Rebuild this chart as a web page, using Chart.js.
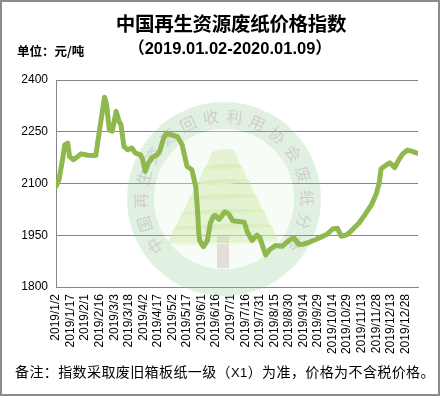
<!DOCTYPE html>
<html>
<head>
<meta charset="utf-8">
<script src="https://cdn.jsdelivr.net/npm/chart.js@4"></script>
<style>
  html, body { margin: 0; padding: 0; background: #fff; }
  #wrap { position: relative; width: 444px; height: 397px; overflow: hidden; background: #fff; }
  #frame { position: absolute; left: 0; top: 0; width: 440px; height: 396px; box-sizing: border-box; border: 2px solid #8c8c8c; }
  canvas { position: absolute; left: 0; top: 0; }
  .t { position: absolute; white-space: nowrap; color: #000; }
  #title { left: 0; width: 462px; text-align: center; top: 8px; font: bold 19.5px "Noto Sans CJK SC", sans-serif; letter-spacing: -0.3px; }
  #sub { left: 0; width: 460px; text-align: center; top: 35px; font: bold 16.5px "Liberation Sans", "Noto Sans CJK SC", sans-serif; }
  #unit { left: 17px; top: 41px; font: bold 12.5px "Noto Sans CJK SC", sans-serif; }
  #note { left: 15px; top: 361px; font: 14px "Noto Sans CJK SC", sans-serif; letter-spacing: 0.4px; }
</style>
</head>
<body>
<div id="wrap">
  <canvas id="c" width="444" height="397"></canvas>
  <div id="frame"></div>
  <div class="t" id="title">中国再生资源废纸价格指数</div>
  <div class="t" id="sub">（2019.01.02-2020.01.09）</div>
  <div class="t" id="unit">单位：元/吨</div>
  <div class="t" id="note">备注：指数采取废旧箱板纸一级（<span style="font-family:'Liberation Sans';font-size:13px">X1</span>）为准，价格为不含税价格。</div>
</div>
<script>
// ---- data ----
const dates = [
  "2019/1/2","2019/1/5","2019/1/9","2019/1/11","2019/1/14","2019/1/16","2019/1/20","2019/1/28",
  "2019/2/4","2019/2/12","2019/2/16","2019/2/21","2019/2/23","2019/2/26","2019/3/1","2019/3/5",
  "2019/3/8","2019/3/10","2019/3/13","2019/3/17","2019/3/21","2019/3/25","2019/3/30","2019/4/1",
  "2019/4/4","2019/4/7","2019/4/11","2019/4/16","2019/4/19","2019/4/23","2019/4/26","2019/5/1",
  "2019/5/7","2019/5/12","2019/5/17","2019/5/22","2019/5/26","2019/5/28","2019/5/29","2019/5/30",
  "2019/6/2","2019/6/3","2019/6/7","2019/6/10","2019/6/13","2019/6/15","2019/6/19","2019/6/25",
  "2019/6/29","2019/7/3","2019/7/15","2019/7/18","2019/7/23","2019/7/28","2019/7/31","2019/8/6",
  "2019/8/10","2019/8/16","2019/8/23","2019/8/30","2019/9/4","2019/9/9","2019/9/14","2019/9/21",
  "2019/9/26","2019/10/3","2019/10/8","2019/10/14","2019/10/19","2019/10/23","2019/10/29","2019/11/3",
  "2019/11/10","2019/11/16","2019/11/23","2019/11/28","2019/12/1","2019/12/3","2019/12/8","2019/12/12",
  "2019/12/17","2019/12/21","2019/12/25","2019/12/30","2020/1/4","2020/1/9"
];
const prices = [
  2091,2110,2174,2212,2217,2178,2169,2186,
  2182,2181,2258,2350,2330,2255,2252,2309,
  2280,2270,2207,2198,2203,2188,2183,2172,
  2135,2158,2175,2183,2195,2232,2246,2241,
  2236,2212,2150,2140,2091,2014,1960,1935,
  1920,1917,1935,1985,2004,2008,1996,2018,
  2012,1992,1988,1960,1935,1950,1943,1893,
  1908,1920,1918,1935,1943,1924,1924,1931,
  1937,1946,1952,1968,1970,1947,1952,1965,
  1985,2008,2038,2070,2101,2143,2153,2160,
  2146,2168,2185,2197,2193,2188
];
const xTickLabels = [
  "2019/1/2","2019/1/17","2019/2/1","2019/2/16","2019/3/3","2019/3/18","2019/4/2","2019/4/17",
  "2019/5/2","2019/5/17","2019/6/1","2019/6/16","2019/7/1","2019/7/16","2019/7/31","2019/8/15",
  "2019/8/30","2019/9/14","2019/9/29","2019/10/14","2019/10/29","2019/11/13","2019/11/28","2019/12/13",
  "2019/12/28"
];
const yTicks = [1800, 1950, 2100, 2250, 2400];
const watermarkText = "中国再生资源回收利用协会废纸分会";

// ---- helpers ----
function dayNum(s) {
  const p = s.split("/").map(Number);
  return Date.UTC(p[0], p[1] - 1, p[2]) / 86400000;
}
const base = dayNum(dates[0]);
const points = dates.map((d, i) => ({ x: dayNum(d) - base, y: prices[i] }));
const xTickValues = xTickLabels.map(d => dayNum(d) - base);

const watermark = {
  id: 'watermark',
  beforeDatasetsDraw(chart) {
    const ctx = chart.ctx;
    const cx = 224, cy = 199;
    ctx.save();
    // outer ring band
    ctx.beginPath();
    ctx.arc(cx, cy, 97, 0, Math.PI * 2);
    ctx.arc(cx, cy, 70, 0, Math.PI * 2, true);
    ctx.fillStyle = 'rgba(140,200,140,0.26)';
    ctx.fill();
    // inner disk
    ctx.beginPath();
    ctx.arc(cx, cy, 70, 0, Math.PI * 2);
    ctx.fillStyle = 'rgba(235,245,230,0.35)';
    ctx.fill();
    // tree trunk
    ctx.fillStyle = 'rgba(190,165,160,0.35)';
    ctx.fillRect(217, 236, 12, 32);
    // tree cone (stacked tiers)
    const tiers = 6;
    for (let i = 0; i < tiers; i++) {
      const top = 150 + i * 15;
      const bot = top + 17;
      const wt = 8 + i * 7.5, wb = 15 + i * 7.5;
      ctx.beginPath();
      ctx.moveTo(cx - 4 - wt, top + 2);
      ctx.quadraticCurveTo(cx, top - 3, cx + wt + 2, top);
      ctx.lineTo(cx + wb + 2, bot);
      ctx.quadraticCurveTo(cx, bot + 4, cx - 4 - wb, bot + 2);
      ctx.closePath();
      ctx.fillStyle = 'rgba(200,228,160,0.42)';
      ctx.fill();
      ctx.strokeStyle = 'rgba(250,252,230,0.8)';
      ctx.lineWidth = 1.2;
      ctx.beginPath();
      ctx.moveTo(cx - 4 - wb + 2, bot + 1);
      ctx.quadraticCurveTo(cx, bot + 3, cx + wb, bot - 1);
      ctx.stroke();
    }
    // ring text
    ctx.font = '16px "Noto Sans CJK SC", sans-serif';
    ctx.fillStyle = 'rgba(190,160,180,0.45)';
    ctx.textAlign = 'center';
    ctx.textBaseline = 'middle';
    const chars = Array.from(watermarkText);
    const start = 146 * Math.PI / 180, step = 16.4 * Math.PI / 180, r = 83;
    chars.forEach((ch, i) => {
      const a = start + i * step;
      ctx.save();
      ctx.translate(cx + r * Math.cos(a), cy + r * Math.sin(a));
      ctx.rotate(a + Math.PI / 2);
      ctx.fillText(ch, 0, 0);
      ctx.restore();
    });
    ctx.restore();
  }
};

new Chart(document.getElementById('c'), {
  type: 'line',
  data: {
    datasets: [{
      data: points,
      borderColor: '#8fb84e',
      borderWidth: 5,
      pointRadius: 0,
      tension: 0,
      fill: false,
      borderJoinStyle: 'round',
      borderCapStyle: 'round'
    }]
  },
  options: {
    responsive: false,
    animation: false,
    layout: { padding: { left: 6, right: 26, top: 80, bottom: 0 } },
    plugins: { legend: { display: false }, tooltip: { enabled: false }, title: { display: false } },
    scales: {
      x: {
        type: 'linear',
        min: 0,
        max: 373,
        afterBuildTicks: s => { s.ticks = xTickValues.map(v => ({ value: v })); },
        afterFit: s => { s.height = 110; },
        grid: { display: false, drawTicks: false },
        border: { display: true, color: '#868686' },
        ticks: {
          autoSkip: false,
          minRotation: 90,
          maxRotation: 90,
          padding: 7,
          color: '#000',
          font: { family: 'Liberation Sans', size: 12 },
          callback: (v, i) => xTickLabels[i]
        }
      },
      y: {
        min: 1800,
        max: 2400,
        afterBuildTicks: s => { s.ticks = yTicks.map(v => ({ value: v })); },
        afterFit: s => { s.width = 50; },
        grid: { color: '#868686', lineWidth: 1, drawTicks: false },
        border: { display: true, color: '#868686' },
        ticks: {
          padding: 8,
          color: '#000',
          font: { family: 'Liberation Sans', size: 12 },
          callback: v => String(v)
        }
      }
    }
  },
  plugins: [watermark]
});
</script>
</body>
</html>
